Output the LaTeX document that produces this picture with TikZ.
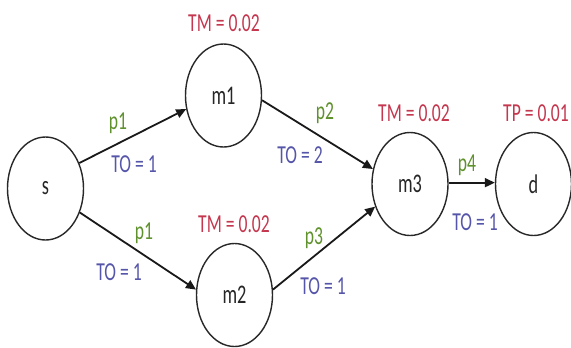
\documentclass[tikz,border=0pt]{standalone}
\usepackage{fontspec}
\usepackage{graphicx}
\setmainfont{Carlito}
\usetikzlibrary{shapes.geometric,arrows.meta}
\definecolor{tmred}{RGB}{196,55,78}
\definecolor{pgreen}{RGB}{95,145,45}
\definecolor{toblue}{RGB}{85,85,170}
\definecolor{edgegray}{RGB}{40,40,40}
\newcommand{\sq}[1]{\scalebox{0.68}[1]{#1}}
\tikzset{
  state/.style={ellipse, draw=edgegray, line width=1.4bp, minimum width=76bp, minimum height=103bp, inner sep=0pt, font=\fontsize{27}{29}\selectfont, text=black!85},
  conn/.style={draw=black!90, line width=1.8bp, -{Triangle[length=10bp,width=9bp]}},
  lbl/.style={font=\fontsize{26}{28}\selectfont, inner sep=0pt},
  tmlbl/.style={lbl, text=tmred},
  plbl/.style={lbl, text=pgreen},
  tolbl/.style={lbl, text=toblue}
}
\begin{document}
\begin{tikzpicture}[x=1bp,y=-1bp]
\useasboundingbox (0,0) rectangle (571,347);
\fill[white] (0,0) rectangle (571,347);
\node[state] (s) at (45.5,188.5) {\sq{s}};
\node[state] (m1) at (223.5,95.5) {\sq{m1}};
\node[state] (m2) at (234.5,295) {\sq{m2}};
\node[state] (m3) at (410,184) {\sq{m3}};
\node[state] (d) at (533.5,184) {\sq{d}};
\draw[conn] (s.37) -- (m1.200);
\draw[conn] (s.325) -- (m2.172);
\draw[conn] (m1.353) -- (m3.158);
\draw[conn] (m2.8) -- (m3.213);
\draw[conn] (m3.2) -- (d.178);
\node[tmlbl] (tm1) at (224,23) {\sq{TM = 0.02}};
\node[tmlbl] (tm2) at (234,224) {\sq{TM = 0.02}};
\node[tmlbl] (tm3) at (414,113) {\sq{TM = 0.02}};
\node[tmlbl] (tp) at (536,113) {\sq{TP = 0.01}};
\node[plbl] (p1a) at (118,123) {\sq{p1}};
\node[tolbl] (to1a) at (134,164) {\sq{TO = 1}};
\node[plbl] (p1b) at (144,233) {\sq{p1}};
\node[tolbl] (to1b) at (119,272) {\sq{TO = 1}};
\node[plbl] (p2) at (325,113) {\sq{p2}};
\node[tolbl] (to2) at (300,155) {\sq{TO = 2}};
\node[plbl] (p3) at (314,238) {\sq{p3}};
\node[tolbl] (to3) at (323,286) {\sq{TO = 1}};
\node[plbl] (p4) at (467,165) {\sq{p4}};
\node[tolbl] (to4) at (475,222) {\sq{TO = 1}};
\end{tikzpicture}
\end{document}
